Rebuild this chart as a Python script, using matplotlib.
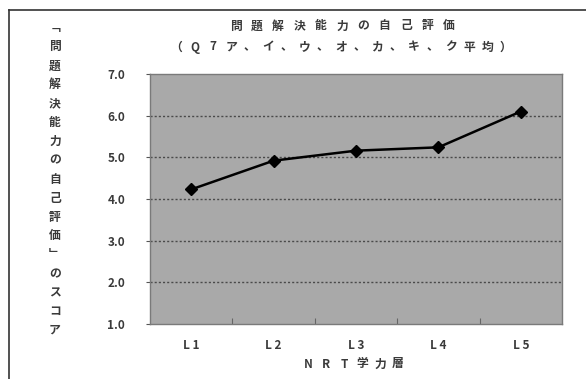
import matplotlib
matplotlib.use("Agg")
import matplotlib.pyplot as plt
from matplotlib.lines import Line2D

plt.rcParams['font.family'] = ['Noto Sans CJK JP', 'DejaVu Sans']

# data
levels = ["L1", "L2", "L3", "L4", "L5"]
scores = [4.23, 4.92, 5.16, 5.24, 6.10]
yticks = [1.0, 2.0, 3.0, 4.0, 5.0, 6.0, 7.0]
title_lines = ["問題解決能力の自己評価", "（Q7ア、イ、ウ、オ、カ、キ、ク平均）"]
xlabel = "NRT学力層"
ylabel = "﹁問題解決能力の自己評価﹂のスコア"

W, H = 586, 379
fig = plt.figure(figsize=(W / 100, H / 100), dpi=100)
fig.patch.set_facecolor("white")

TXT = "#3a3a3a"
FS = 8.5

# plot area in pixel units
left, right, top, bottom = 150, 562, 74, 324
ax = fig.add_axes([left / W, 1 - bottom / H, (right - left) / W, (bottom - top) / H])
ax.set_facecolor("#a9a9a9")

x = list(range(len(levels)))
ax.plot(x, scores, color="black", lw=1.8, marker="D", ms=6, mfc="black", mec="black", zorder=3)

ax.set_xlim(-0.5, len(levels) - 0.5)
ax.set_ylim(yticks[0], yticks[-1])
ax.set_yticks(yticks)
ax.set_yticklabels([f"{v:.1f}" for v in yticks], fontsize=FS, color=TXT, fontweight="bold")
ax.tick_params(axis="y", length=3, width=0.8, color="#555555", pad=15)

# category boundary ticks on the x axis
ax.set_xticks([i + 0.5 for i in range(len(levels) - 1)], minor=False)
ax.set_xticklabels([])
ax.tick_params(axis="x", direction="in", length=4, width=0.8, color="#666666")
ax.set_xticks(x, minor=True)
ax.set_xticklabels([" ".join(s) for s in levels], minor=True, fontsize=FS, color=TXT, fontweight="bold")
ax.tick_params(axis="x", which="minor", length=0, pad=11)

for v in yticks[1:-1]:
    ax.axhline(v, color="#4a4a4a", lw=1.0, ls=(0, (1.5, 1.5)), zorder=1)

for side, sp in ax.spines.items():
    sp.set_color("#7a7a7a")
    sp.set_linewidth(1.0)


def spaced(text, cx, cy, pitch, vertical=False):
    n = len(text)
    for i, ch in enumerate(text):
        off = (i - (n - 1) / 2) * pitch
        px, py = (cx, cy + off) if vertical else (cx + off, cy)
        fig.text(px / W, 1 - py / H, ch, ha="center", va="center",
                 fontsize=FS, color=TXT, fontweight="bold")


spaced(title_lines[0], 342, 26, 21.3)
spaced(title_lines[1], 341, 47, 18.3)
spaced(xlabel, 353, 364, 18.0)
spaced(ylabel, 55, 28 + 8 * 18.9, 18.9, vertical=True)

# outer frame (top and left edges)
fig.add_artist(Line2D([9 / W, 1], [1 - 10 / H, 1 - 10 / H], transform=fig.transFigure, color="#333333", lw=1.2))
fig.add_artist(Line2D([9 / W, 9 / W], [0, 1 - 10 / H], transform=fig.transFigure, color="#333333", lw=1.2))

fig.savefig("out.png", dpi=100)
